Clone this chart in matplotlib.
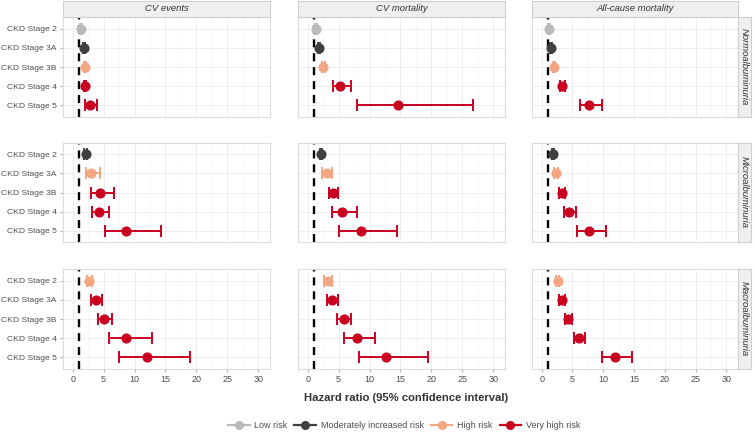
import numpy as np
import matplotlib
matplotlib.use('Agg')
import matplotlib.pyplot as plt
from matplotlib.lines import Line2D

plt.rcParams['font.family'] = ['Liberation Sans', 'DejaVu Sans']

stages = ['CKD Stage 2', 'CKD Stage 3A', 'CKD Stage 3B', 'CKD Stage 4', 'CKD Stage 5']
outcomes = ['CV events', 'CV mortality', 'All-cause mortality']
albuminuria = ['Normoalbuminuria', 'Microalbuminuria', 'Macroalbuminuria']
risk_names = ['Low risk', 'Moderately increased risk', 'High risk', 'Very high risk']
risk_colors = ['#bababa', '#404040', '#f4a582', '#ca0020']

# risk category per albuminuria row (0=low .. 3=very high), per stage
risk_normo = [0, 1, 2, 3, 3]
risk_micro = [1, 2, 3, 3, 3]
risk_macro = [2, 3, 3, 3, 3]

# hazard ratios, lower and upper CI
hr_normo_cve = [1.38, 1.81, 1.97, 2.00, 2.78]
lo_normo_cve = [1.22, 1.62, 1.78, 1.80, 1.97]
hi_normo_cve = [1.52, 1.98, 2.15, 2.20, 3.87]
hr_normo_cvm = [1.33, 1.81, 2.50, 5.30, 14.6]
lo_normo_cvm = [1.17, 1.62, 2.28, 4.08, 7.90]
hi_normo_cvm = [1.48, 1.98, 2.72, 7.04, 26.8]
hr_normo_acm = [1.17, 1.49, 1.97, 3.38, 7.75]
lo_normo_acm = [1.05, 1.35, 1.80, 3.00, 6.18]
hi_normo_acm = [1.30, 1.65, 2.15, 3.80, 9.74]

hr_micro_cve = [2.08, 3.00, 4.35, 4.29, 8.60]
lo_micro_cve = [1.88, 2.08, 2.90, 3.16, 5.26]
hi_micro_cve = [2.28, 4.40, 6.67, 5.86, 14.27]
hr_micro_cvm = [2.18, 3.10, 4.10, 5.50, 8.66]
lo_micro_cvm = [1.98, 2.30, 3.48, 3.90, 5.10]
hi_micro_cvm = [2.38, 3.96, 4.94, 7.90, 14.48]
hr_micro_acm = [1.81, 2.35, 3.27, 4.45, 7.75]
lo_micro_acm = [1.62, 2.00, 2.80, 3.60, 5.70]
hi_micro_acm = [1.98, 2.70, 3.80, 5.60, 10.5]

hr_macro_cve = [2.62, 3.75, 5.05, 8.66, 11.96]
lo_macro_cve = [2.25, 2.90, 4.03, 5.80, 7.52]
hi_macro_cve = [3.05, 4.78, 6.29, 12.86, 18.9]
hr_macro_cvm = [3.20, 3.85, 5.80, 7.96, 12.7]
lo_macro_cvm = [2.56, 3.04, 4.80, 5.80, 8.28]
hi_macro_cvm = [3.85, 4.90, 7.04, 10.9, 19.45]
hr_macro_acm = [2.62, 3.32, 4.29, 6.13, 11.96]
lo_macro_acm = [2.40, 2.85, 3.75, 5.20, 9.74]
hi_macro_acm = [2.85, 3.85, 4.85, 7.04, 14.64]

grid = [
    [(hr_normo_cve, lo_normo_cve, hi_normo_cve), (hr_normo_cvm, lo_normo_cvm, hi_normo_cvm), (hr_normo_acm, lo_normo_acm, hi_normo_acm)],
    [(hr_micro_cve, lo_micro_cve, hi_micro_cve), (hr_micro_cvm, lo_micro_cvm, hi_micro_cvm), (hr_micro_acm, lo_micro_acm, hi_micro_acm)],
    [(hr_macro_cve, lo_macro_cve, hi_macro_cve), (hr_macro_cvm, lo_macro_cvm, hi_macro_cvm), (hr_macro_acm, lo_macro_acm, hi_macro_acm)],
]
risks = [risk_normo, risk_micro, risk_macro]

W, H = 755, 433
fig = plt.figure(figsize=(W / 100, H / 100), dpi=100)

col_px = [(63, 270), (298, 505), (532, 738)]
row_px = [(17, 117), (143, 242), (269, 369)]
strip_fill = '#efefef'
strip_edge = '#cfcfcf'
txt_col = '#4d4d4d'

def px_axes(x0, x1, y0, y1):
    return fig.add_axes([x0 / W, 1 - y1 / H, (x1 - x0) / W, (y1 - y0) / H])

ypos = np.arange(len(stages))[::-1] + 1

for r in range(3):
    for c in range(3):
        x0, x1 = col_px[c]
        y0, y1 = row_px[r]
        ax = px_axes(x0, x1, y0, y1)
        hr, lo, hi = [np.array(a) for a in grid[r][c]]
        ax.set_xlim(-1.57, 31.9)
        ax.set_ylim(0.4, 5.6)
        ax.set_xticks(np.arange(0, 31, 5))
        ax.set_xticks(np.arange(2.5, 31, 5), minor=True)
        ax.set_yticks(ypos)
        ax.grid(True, which='major', color='#ebebeb', lw=0.6)
        ax.grid(True, which='minor', axis='x', color='#f4f4f4', lw=0.4)
        ax.set_axisbelow(True)
        for s in ax.spines.values():
            s.set_color('#dcdcdc')
            s.set_linewidth(0.8)
        ax.axvline(1, color='black', lw=1.7, ls=(0, (3.4, 2.5)), zorder=2)
        for i in range(len(stages)):
            col = risk_colors[risks[r][i]]
            ax.errorbar(hr[i], ypos[i], xerr=[[hr[i] - lo[i]], [hi[i] - hr[i]]],
                        fmt='o', color=col, ms=6.3, elinewidth=1.4, capsize=4.2,
                        capthick=1.4, zorder=3)
        ax.tick_params(which='both', length=2.5, color='#b3b3b3', labelsize=6.5,
                       labelcolor=txt_col, pad=2)
        ax.tick_params(axis='y', labelsize=6.1)
        ax.tick_params(which='minor', length=0)
        if c == 0:
            ax.set_yticklabels(stages)
        else:
            ax.set_yticklabels([])
            ax.tick_params(axis='y', length=0)
        if r == 2:
            ax.set_xticklabels([str(v) for v in range(0, 31, 5)])
        else:
            ax.set_xticklabels([])
            ax.tick_params(axis='x', length=0)

        if r == 0:
            st = px_axes(x0, x1, 0.5, y0)
            st.set_xticks([]); st.set_yticks([])
            st.set_facecolor(strip_fill)
            for s in st.spines.values():
                s.set_color(strip_edge)
                s.set_linewidth(0.8)
            st.text(0.5, 0.5, outcomes[c], ha='center', va='center', style='italic',
                    fontsize=6.8, color='#333333', transform=st.transAxes)
        if c == 2:
            st = px_axes(x1, 750.5, y0, y1)
            st.set_xticks([]); st.set_yticks([])
            st.set_facecolor(strip_fill)
            for s in st.spines.values():
                s.set_color(strip_edge)
                s.set_linewidth(0.8)
            st.text(0.5, 0.5, albuminuria[r], ha='center', va='center', style='italic',
                    rotation=-90, fontsize=6.8, color='#333333', transform=st.transAxes)

fig.text(406 / W, 1 - 398 / H, 'Hazard ratio (95% confidence interval)', ha='center',
         va='center', fontsize=8.1, fontweight='bold', color='#333333')

handles = [Line2D([0], [0], color=rc, lw=1.6, marker='o', ms=5.5) for rc in risk_colors]
fig.legend(handles, risk_names, loc='center', bbox_to_anchor=(404 / W, 1 - 426 / H),
           ncol=4, frameon=False, fontsize=6.5, labelcolor=txt_col, handlelength=2.4,
           handletextpad=0.5, columnspacing=0.8, borderaxespad=0)

fig.savefig('out.png', dpi=100)
